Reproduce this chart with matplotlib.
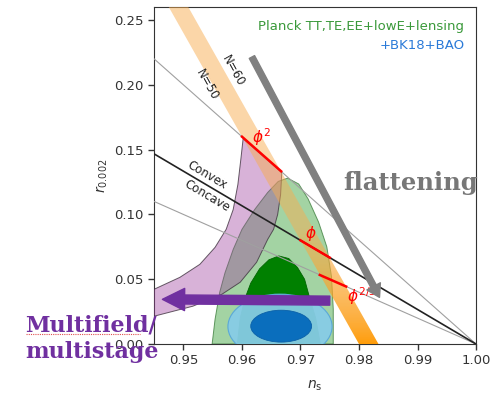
import numpy as np
import matplotlib.pyplot as plt
from matplotlib.patches import Polygon, Ellipse, FancyArrowPatch
from matplotlib.lines import Line2D

# --- constraint contours (ns, r) ---
green95_ns = [0.9549, 0.9554, 0.9562, 0.9571, 0.9585, 0.9600, 0.9622, 0.9644, 0.9662,
              0.9678, 0.9697, 0.9713, 0.9731, 0.9745, 0.9753, 0.9756, 0.9756]
green95_r = [0.0, 0.019, 0.040, 0.055, 0.073, 0.0885, 0.104, 0.117, 0.1255,
             0.128, 0.1235, 0.112, 0.094, 0.075, 0.052, 0.027, 0.0]

green68_ns = [0.9592, 0.9597, 0.9605, 0.9615, 0.9630, 0.9646, 0.9663, 0.9680, 0.9695,
              0.9707, 0.9716, 0.9726, 0.9734]
green68_r = [0.0, 0.020, 0.035, 0.047, 0.058, 0.065, 0.068, 0.066, 0.059,
             0.050, 0.035, 0.020, 0.0]

# BK18+BAO ellipses: centre, full width, full height
bk95_centre, bk95_size = (0.9665, 0.0135), (0.0178, 0.0500)
bk68_centre, bk68_size = (0.9667, 0.0138), (0.0104, 0.0246)

# multifield / multistage region
multi_upper_ns = [0.9602, 0.9598, 0.9593, 0.9585, 0.9573, 0.9554, 0.9528, 0.9494, 0.9450, 0.9400]
multi_upper_r = [0.1585, 0.1423, 0.1231, 0.1038, 0.0885, 0.0746, 0.0615, 0.0515, 0.0423, 0.0360]
multi_lower_ns = [0.9668, 0.9666, 0.9661, 0.9654, 0.9644, 0.9625, 0.9597, 0.9566, 0.9516, 0.9450, 0.9400]
multi_lower_r = [0.1323, 0.1154, 0.1000, 0.0885, 0.0808, 0.0631, 0.0477, 0.0385, 0.0292, 0.0215, 0.0170]

# phi^p band edges
n50_ns, n50_r = [0.9800, 0.94625], [0.0, 0.27]
n60_ns, n60_r = [0.98333, 0.94958], [0.0, 0.27]

# monomial potentials, N = 50 .. 60
phi2_ns, phi2_r = [0.9600, 0.9667], [0.160, 0.1333]
phi1_ns, phi1_r = [0.9700, 0.9750], [0.080, 0.0667]
phi23_ns, phi23_r = [0.9733, 0.9778], [0.0533, 0.0444]

# straight lines into (1, 0)
ray_ns = [0.945, 1.0]
ray_upper_r = [0.22, 0.0]
ray_convex_r = [0.1467, 0.0]
ray_lower_r = [0.11, 0.0]

xticks = [0.95, 0.96, 0.97, 0.98, 0.99, 1.00]
yticks = [0.00, 0.05, 0.10, 0.15, 0.20, 0.25]

purple = '#7030a0'

fig = plt.figure(figsize=(4.99, 3.95), dpi=100)
ax = fig.add_axes([0.309, 0.129, 0.645, 0.853])

ax.add_patch(Polygon(np.column_stack([green95_ns, green95_r]), closed=True,
                     facecolor=(0.2, 0.62, 0.2, 0.45), edgecolor=(0.25, 0.5, 0.25, 0.8),
                     lw=0.7, zorder=1))
ax.add_patch(Polygon(np.column_stack([green68_ns, green68_r]), closed=True,
                     facecolor='#008000', edgecolor='#006400', lw=0.6, zorder=2))
ax.add_patch(Ellipse(bk95_centre, *bk95_size, facecolor=(0.53, 0.80, 0.90, 0.95),
                     edgecolor='#5aa8d8', lw=0.8, zorder=3))
ax.add_patch(Ellipse(bk68_centre, *bk68_size, facecolor='#0a6ebd',
                     edgecolor='#0a60a8', lw=0.6, zorder=4))

multi_pts = np.column_stack([multi_upper_ns + multi_lower_ns[::-1],
                             multi_upper_r + multi_lower_r[::-1]])
ax.add_patch(Polygon(multi_pts, closed=True, facecolor=(0.62, 0.25, 0.62, 0.40),
                     edgecolor=(0.25, 0.2, 0.25, 0.8), lw=0.7, zorder=5))

# shaded band, pale at the top and deep orange towards r = 0
band_pts = np.column_stack([n50_ns + n60_ns[::-1], n50_r + n60_r[::-1]])
band = Polygon(band_pts, closed=True, facecolor='none', edgecolor='none', zorder=6)
ax.add_patch(band)
rr = np.linspace(0, 0.27, 300)
t = np.clip(rr / 0.09, 0, 1) ** 0.8
top = np.array([0.97, 0.68, 0.32, 0.50])
bottom = np.array([1.0, 0.60, 0.0, 0.97])
grad = (bottom[None, :] * (1 - t[:, None]) + top[None, :] * t[:, None])[:, None, :]
im = ax.imshow(grad, extent=[0.945, 1.0, 0, 0.27], origin='lower', aspect='auto',
               interpolation='bilinear', zorder=6)
im.set_clip_path(band)

ax.plot(ray_ns, ray_upper_r, color='#a0a0a0', lw=0.8, zorder=7)
ax.plot(ray_ns, ray_lower_r, color='#a0a0a0', lw=0.8, zorder=7)
ax.plot(ray_ns, ray_convex_r, color='#222222', lw=1.2, zorder=7)

for xs, ys in [(phi2_ns, phi2_r), (phi1_ns, phi1_r), (phi23_ns, phi23_r)]:
    ax.plot(xs, ys, color='red', lw=1.8, zorder=8)

ax.text(0.9634, 0.160, r'$\phi^2$', color='red', fontsize=11, ha='center', va='center', zorder=9)
ax.text(0.9717, 0.085, r'$\phi$', color='red', fontsize=11, ha='center', va='center', zorder=9)
ax.text(0.9780, 0.037, r'$\phi^{2/3}$', color='red', fontsize=11, ha='left', va='center', zorder=9)

ax.text(0.9540, 0.200, 'N=50', rotation=-60.6, fontsize=8.5, color='#222222',
        ha='center', va='center', rotation_mode='anchor', zorder=9)
ax.text(0.9585, 0.211, 'N=60', rotation=-60.6, fontsize=8.5, color='#222222',
        ha='center', va='center', rotation_mode='anchor', zorder=9)
ax.text(0.9540, 0.1300, 'Convex', rotation=-30.6, fontsize=8.5, color='#222222',
        ha='center', va='center', rotation_mode='anchor', zorder=9)
ax.text(0.9540, 0.1146, 'Concave', rotation=-30.6, fontsize=8.5, color='#222222',
        ha='center', va='center', rotation_mode='anchor', zorder=9)

ax.text(0.998, 0.245, 'Planck TT,TE,EE+lowE+lensing', color='#3a993a', fontsize=9.5,
        ha='right', va='center', zorder=9)
ax.text(0.998, 0.230, '+BK18+BAO', color='#2a7ad8', fontsize=9.5,
        ha='right', va='center', zorder=9)

# trend arrows
ax.add_patch(FancyArrowPatch((0.9617, 0.2215), (0.9835, 0.036),
                             arrowstyle='simple,head_length=9,head_width=11,tail_width=4.3',
                             mutation_scale=1, shrinkA=0, shrinkB=0,
                             color='#808080', zorder=10))
ax.add_patch(FancyArrowPatch((0.9750, 0.0335), (0.9464, 0.0345),
                             arrowstyle='simple,head_length=16,head_width=16,tail_width=6.5',
                             mutation_scale=1, shrinkA=0, shrinkB=0,
                             color=purple, zorder=10))

fig.text(0.958, 0.537, 'flattening', family='DejaVu Serif', weight='bold', fontsize=17.5,
         color='#777777', ha='right', va='center')
fig.text(0.05, 0.162, 'Multifield/', family='DejaVu Serif', weight='bold',
         fontsize=16, color=purple, ha='left', va='baseline')
fig.text(0.05, 0.094, 'multistage', family='DejaVu Serif', weight='bold',
         fontsize=16, color=purple, ha='left', va='baseline')
fig.add_artist(Line2D([0.052, 0.28], [0.155, 0.155], color='#e05050', lw=0.8,
                      ls=(0, (1, 1)), transform=fig.transFigure))

ax.set_xlim(0.945, 1.0)
ax.set_ylim(0, 0.26)
ax.set_xticks(xticks)
ax.set_yticks(yticks)
ax.set_xticklabels([f'{v:.2f}' for v in xticks])
ax.set_yticklabels([f'{v:.2f}' for v in yticks])
ax.tick_params(labelsize=9.5, length=4, width=1, colors='#333333')
for s in ax.spines.values():
    s.set_color('#333333')
ax.set_xlabel(r'$n_\mathrm{s}$', fontsize=10, color='#333333', labelpad=8)
ax.set_ylabel(r'$r_{0.002}$', fontsize=10, color='#333333', labelpad=3)

fig.savefig('out.png', dpi=100)
